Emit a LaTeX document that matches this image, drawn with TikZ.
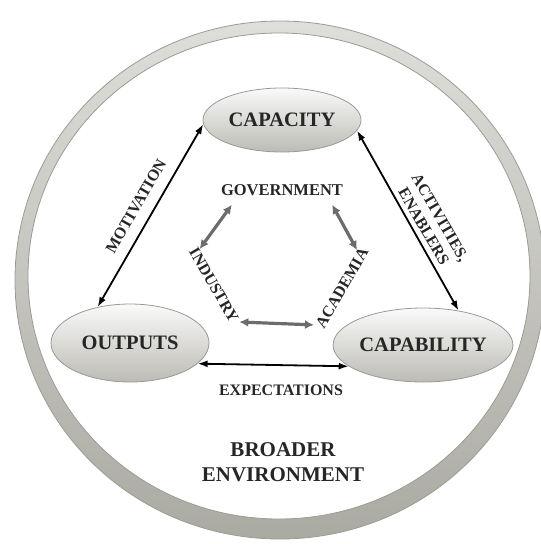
\documentclass[tikz,border=0pt]{standalone}
\usepackage{fontspec}
\setmainfont{Liberation Serif}
\usetikzlibrary{arrows.meta,shapes.geometric}

\definecolor{ringlight}{HTML}{DEDEDA}
\definecolor{ringdark}{HTML}{ABAAA2}
\definecolor{ringedge}{HTML}{9C9C96}
\definecolor{blobedge}{HTML}{9A9A96}
\definecolor{hexgrey}{HTML}{6C6C6C}
\definecolor{inktext}{HTML}{262626}

\begin{document}
\begin{tikzpicture}[x=1pt,y=-1pt,
        blob/.style={shape=ellipse,draw=blobedge,line width=0.8pt,
            top color=white!85!ringlight,bottom color=ringdark!80!white,
            minimum width=158pt,inner sep=0pt,text=inktext,
            font=\fontsize{20.5}{24}\selectfont\bfseries},
        bigarrow/.style={{Latex[length=10pt,width=7pt]}-{Latex[length=10pt,width=7pt]},
            line width=1.8pt,black},
        hexarrow/.style={{Latex[length=9pt,width=9pt]}-{Latex[length=9pt,width=9pt]},
            line width=3.2pt,hexgrey},
        tag/.style={text=inktext,inner sep=1pt,font=\fontsize{16}{18.7}\selectfont\bfseries}]
    \useasboundingbox (0,0) rectangle (541,544);

    % the broader environment ring
    \shade[top color=ringlight,bottom color=ringdark,even odd rule]
        (280,280) ellipse [x radius=265,y radius=259]
        (279,276) ellipse [x radius=251,y radius=243];
    \draw[ringedge,line width=0.8pt] (280,280) ellipse [x radius=265,y radius=259];
    \draw[ringedge,line width=0.8pt] (279,276) ellipse [x radius=251,y radius=243];

    % the three corners
    \node[blob,minimum height=64pt] (capacity) at (282,120) {CAPACITY};
    \node[blob,minimum height=78pt] (outputs) at (130,343) {OUTPUTS};
    \node[blob,minimum height=74pt] (capability) at (423,345) {CAPABILITY};

    \path [bigarrow](capacity.183) edge (outputs.132);
    \path [bigarrow](capacity.-8) edge (capability.44);
    \path [bigarrow](outputs.-17) edge (capability.196);

    \node[tag,rotate=60] (motivation) at (136,206) {MOTIVATION};
    \node[tag,rotate=-60,align=center] (enablers) at (432,222) {ACTIVITIES,\\ENABLERS};
    \node[tag] (expectations) at (281,390) {EXPECTATIONS};

    % inner hexagon of actors
    \node[tag,font=\fontsize{16.5}{20}\selectfont\bfseries] (gov) at (282,190) {GOVERNMENT};
    \node[tag,rotate=-60] (industry) at (214,285) {INDUSTRY};
    \node[tag,rotate=60] (academia) at (342,288) {ACADEMIA};

    \path [hexarrow]([xshift=12pt,yshift=-8pt]gov.south west) edge ([xshift=7pt,yshift=-1pt]industry.west);
    \path [hexarrow]([xshift=-12pt,yshift=-8pt]gov.south east) edge ([xshift=-8pt,yshift=-2pt]academia.east);
    \path [hexarrow]([xshift=4pt]industry.east) edge ([xshift=-5pt,yshift=3pt]academia.west);

    \node[tag,align=center,font=\fontsize{21}{25}\selectfont\bfseries] (broader) at (283,462) {BROADER\\ENVIRONMENT};
\end{tikzpicture}
\end{document}
